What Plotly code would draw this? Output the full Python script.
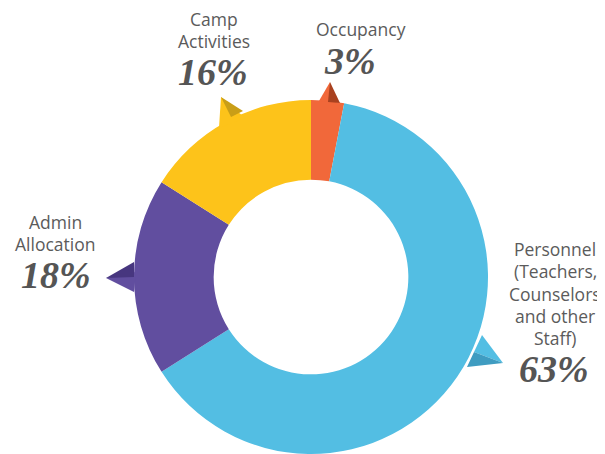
import plotly.graph_objects as go

# the page puts the figure 8 px in from the top-left, so the figure is
# made 8 px smaller and every page-pixel position is shifted back by 8
OFF = 8
W, H = 605 - OFF, 454 - OFF

labels = ["Occupancy", "Personnel (Teachers, Counselors and other Staff)",
          "Admin Allocation", "Camp Activities"]
values = [3, 63, 18, 16]
colors = ["#F1683A", "#53BEE3", "#614E9F", "#FDC31A"]
shade = ["#A9411F", "#3F9CC1", "#47367F", "#C99E17"]

# text blocks: name lines, percent text, and page-pixel centres
label_lines = [["Occupancy"],
               ["Personnel", "(Teachers,", "Counselors", "and other", "Staff)"],
               ["Admin", "Allocation"],
               ["Camp", "Activities"]]
pct_text = ["3%", "63%", "18%", "16%"]
label_pos = [(361, 29), (555, 249), (55, 222), (214, 19)]
pct_pos = [(350, 61), (554, 369), (56, 275), (213, 72)]


def px(x, y):
    return (x - OFF) / W, 1 - (y - OFF) / H


def tri(pts):
    p = [px(x, y) for x, y in pts]
    return "M " + " L ".join(f"{a:.4f},{b:.4f}" for a, b in p) + " Z"


cy = 1 - (100 - OFF) / H  # top of the ring
cx = (311 - OFF) / W
half = 0.32
fig = go.Figure(go.Pie(
    labels=labels, values=values, hole=0.55, sort=False,
    direction="clockwise", rotation=0,
    marker=dict(colors=colors, line=dict(width=0)),
    textinfo="none", hoverinfo="label+percent",
    domain=dict(x=[cx - half, cx + half], y=[0.0, cy]),
))

# little pointer tabs next to each slice
pointers = [
    ([(319, 101), (330, 82), (331, 102)], [(330, 82), (340, 103), (328, 102)], 0),
    ([(482, 335), (503, 363), (474, 352)], [(474, 352), (503, 363), (467, 367)], 1),
    ([(106, 278), (136, 272), (134, 292)], [(106, 278), (134, 262), (134, 277)], 2),
    ([(221, 97), (219, 128), (245, 118)], [(221, 97), (243, 111), (231, 117)], 3),
]
for light, dark, i in pointers:
    fig.add_shape(type="path", path=tri(light), xref="paper", yref="paper",
                  fillcolor=colors[i], line=dict(width=0))
    fig.add_shape(type="path", path=tri(dark), xref="paper", yref="paper",
                  fillcolor=shade[i], line=dict(width=0))

for lines, (x, y) in zip(label_lines, label_pos):
    for k, line in enumerate(lines):
        xx, yy = px(x, y + k * 22.3)
        fig.add_annotation(x=xx, y=yy, xref="paper", yref="paper", text=line,
                           showarrow=False, xanchor="center", yanchor="middle",
                           font=dict(family="Open Sans", size=17.5, color="#5b5b5b"))

for t, (x, y) in zip(pct_text, pct_pos):
    xx, yy = px(x, y)
    fig.add_annotation(x=xx, y=yy, xref="paper", yref="paper", text=t,
                       showarrow=False, xanchor="center", yanchor="middle",
                       font=dict(family="Liberation Serif", size=38, color="#555555",
                                 weight="bold", style="italic"))

fig.update_layout(width=W, height=H, margin=dict(l=0, r=0, t=0, b=0),
                  showlegend=False, paper_bgcolor="white", plot_bgcolor="white")
fig.write_html("out.html")
